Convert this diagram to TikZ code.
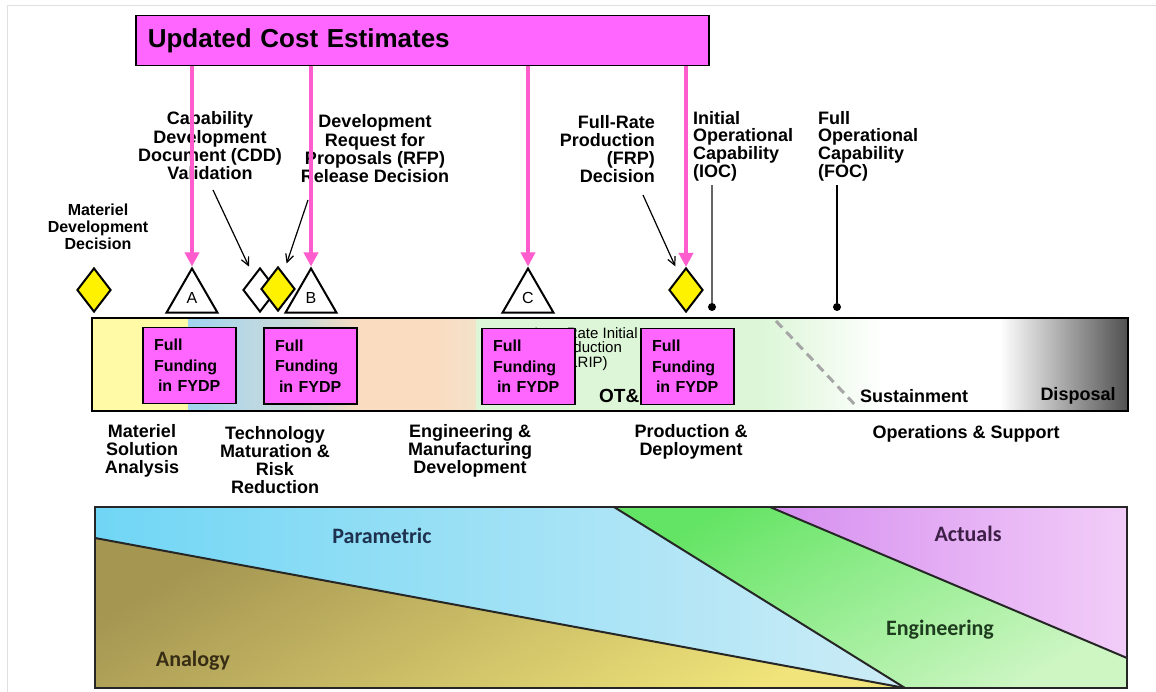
\documentclass[tikz,border=0pt]{standalone}
\usepackage{fontspec}
\setmainfont{Liberation Sans}
\newfontfamily\calfont{Carlito}
\usetikzlibrary{shapes.geometric,arrows.meta,calc}
\definecolor{pinkbox}{RGB}{255,102,255}
\definecolor{pinkarr}{RGB}{255,92,205}
\definecolor{dyel}{RGB}{255,242,0}
\definecolor{bY}{RGB}{255,250,165}
\definecolor{bB1}{RGB}{160,212,240}
\definecolor{bB2}{RGB}{188,216,226}
\definecolor{bG}{RGB}{205,218,215}
\definecolor{bP}{RGB}{250,220,192}
\definecolor{bP2}{RGB}{243,226,202}
\definecolor{bGr}{RGB}{220,246,215}
\definecolor{bD}{RGB}{80,80,80}
\definecolor{anaT}{RGB}{165,150,82}
\definecolor{anaB}{RGB}{240,228,122}
\definecolor{parL}{RGB}{112,214,245}
\definecolor{parR}{RGB}{205,236,246}
\definecolor{engT}{RGB}{100,228,100}
\definecolor{engB}{RGB}{205,246,195}
\definecolor{actL}{RGB}{214,142,240}
\definecolor{actR}{RGB}{242,205,248}
\begin{document}
\begin{tikzpicture}[x=1pt,y=-1pt,
  lbl/.style={inner sep=0pt,font=\fontsize{18}{18}\selectfont\bfseries},
  lblsm/.style={inner sep=0pt,font=\fontsize{16}{17}\selectfont\bfseries},
  tri/.style={regular polygon,regular polygon sides=3,draw,line width=2pt,fill=white,
    minimum size=59pt,inner sep=0pt,font=\fontsize{16}{16}\selectfont},
  dia/.style={diamond,draw,line width=2pt,fill=dyel,minimum width=34pt,minimum height=44pt,inner sep=0pt},
  fund/.style={draw,line width=1.5pt,fill=pinkbox,minimum width=93pt,minimum height=76pt,
    text width=71pt,inner xsep=11pt,inner ysep=0pt,align=left,font=\fontsize{16}{20.5}\selectfont\bfseries},
  ucebox/.style={draw,line width=1.5pt,fill=pinkbox,minimum width=573pt,minimum height=50pt,
    text width=549pt,inner xsep=12pt,align=left,font=\fontsize{26}{26}\selectfont\bfseries},
  parr/.style={pinkarr,line width=4pt,-{Triangle[length=14pt,width=14pt]}},
  barr/.style={black,line width=1.2pt,-{Straight Barb[length=8pt,width=8pt]},shorten >=10pt},
  dotn/.style={circle,fill=black,inner sep=0pt,minimum size=8pt},
  ctext/.style={inner sep=0pt,font=\calfont\fontsize{22}{24}\selectfont\bfseries}
]
\useasboundingbox (0,0) rectangle (1156,692);
\fill[white] (0,0) rectangle (1156,692);
\draw[black!12,line width=1pt] (7,692) -- (7,6) -- (1156,6);

% ---------- timeline bar ----------
\fill[bY] (92,318) rectangle (188,411);
\shade[left color=bB1,right color=bB2] (188,318) rectangle (252,411);
\shade[left color=bB2,right color=bG] (252,318) rectangle (305,411);
\shade[left color=bG,right color=bP] (305,318) rectangle (360,411);
\fill[bP] (360,318) rectangle (435,411);
\shade[left color=bP,right color=bP2] (435,318) rectangle (476,411);
\fill[bGr] (476,318) rectangle (760,411);
\shade[left color=bGr,right color=white] (760,318) rectangle (885,411);
\shade[left color=white,right color=bD] (1000,318) rectangle (1128,411);
\draw[black!35,line width=3pt,dash pattern=on 9pt off 6pt] (776,321) -- (858,408);
\draw[line width=2.5pt] (92,318) rectangle (1128,411);

\node[inner sep=0pt,align=center,font=\fontsize{15}{14.5}\selectfont] (lrip) at (586,349) {Low-Rate Initial\\Production\\(LRIP)};
\node[inner sep=0pt,anchor=west,font=\fontsize{19}{19}\selectfont\bfseries] (ote) at (599,396) {OT\&E};
\node[lbl] (sust) at (914,396) {Sustainment};
\node[lbl] (disp) at (1078,396) {Disposal};

\node[fund] (f1) at (189.5,365.5) {Full\\Funding\\\hspace*{4pt}in FYDP};
\node[fund] (f2) at (310.5,366) {Full\\Funding\\\hspace*{4pt}in FYDP};
\node[fund] (f3) at (528.5,366.5) {Full\\Funding\\\hspace*{4pt}in FYDP};
\node[fund] (f4) at (687.5,366.5) {Full\\Funding\\\hspace*{4pt}in FYDP};

% ---------- phase labels ----------
\node[lbl,align=center] (msa) at (142,451) {Materiel\\Solution\\Analysis};
\node[lbl,align=center] (tmrr) at (275,460) {Technology\\Maturation \&\\Risk\\Reduction};
\node[lbl,align=center] (emd) at (470,451) {Engineering \&\\Manufacturing\\Development};
\node[lbl,align=center] (pd) at (691,442) {Production \&\\Deployment};
\node[lbl,align=center] (os) at (966,434) {Operations \& Support};

% ---------- milestones ----------
\node[dia] (mdd) at (94,290) {};
\node[tri] (A) at (192,298) {A};
\node[tri] (B) at (311,298) {B};
\node[dia,fill=white] (cdd) at (260,290) {};
\node[dia] (rfp) at (278,289) {};
\node[tri] (C) at (528,298) {C};
\node[dia] (frp) at (686,290) {};

% ---------- milestone labels ----------
\node[lblsm,align=center] (mddL) at (98,227) {Materiel\\Development\\Decision};
\node[lbl,align=center,font=\fontsize{18}{18.3}\selectfont\bfseries] (cddL) at (210,146) {Capability\\Development\\Document (CDD)\\Validation};
\node[lbl,align=center,font=\fontsize{18}{18.3}\selectfont\bfseries] (rfpL) at (375,149) {Development\\Request for\\Proposals (RFP)\\Release Decision};
\node[lbl,align=right,anchor=east,font=\fontsize{18}{18}\selectfont\bfseries] (frpL) at (655,149) {Full-Rate\\Production\\(FRP)\\Decision};
\node[lbl,align=left,anchor=west,font=\fontsize{18}{17.7}\selectfont\bfseries] (iocL) at (693,146) {Initial\\Operational\\Capability\\(IOC)};
\node[lbl,align=left,anchor=west,font=\fontsize{18}{17.7}\selectfont\bfseries] (focL) at (818,146) {Full\\Operational\\Capability\\(FOC)};

\coordinate (cddT) at (213,190);
\coordinate (rfpT) at (308,200);
\coordinate (frpT) at (643,195);
\draw[barr] (cddT) -- (cdd);
\draw[barr] (rfpT) -- (rfp);
\draw[barr] (frpT) -- (frp);

\coordinate (iocT) at (712,185);
\coordinate (focT) at (837,185);
\node[dotn] (iocD) at (712,307) {};
\node[dotn] (focD) at (837,307) {};
\draw[black!60,line width=1.5pt] (iocT) -- (iocD);
\draw[black,line width=1.5pt] (focT) -- (focD);

% ---------- updated cost estimates ----------
\node[ucebox,anchor=north west] (uce) at (135,15) {Updated Cost Estimates};
\draw[parr] (uce.south -| A.north) -- (A.north);
\draw[parr] (uce.south -| B.north) -- (B.north);
\draw[parr] (uce.south -| C.north) -- (C.north);
\draw[parr] (uce.south -| frp.north) -- (frp.north);

% ---------- estimating methods chart ----------
\shade[top color=anaT,bottom color=anaB,shading angle=30] (95,538) -- (905,688) -- (95,688) -- cycle;
\shade[left color=parL,right color=parR] (95,507) -- (614,507) -- (905,688) -- (95,538) -- cycle;
\shade[top color=engT,bottom color=engB,shading angle=30] (614,507) -- (770,507) -- (1127,658) -- (1127,688) -- (905,688) -- cycle;
\shade[left color=actL,right color=actR] (770,507) -- (1127,507) -- (1127,658) -- cycle;
\draw[black!85,line width=2pt] (95,538) -- (905,688);
\draw[black!85,line width=2pt] (614,507) -- (905,688);
\draw[black!85,line width=2pt] (770,507) -- (1127,658);
\draw[black!85,line width=2pt] (95,507) rectangle (1127,688);
\node[ctext,text={rgb,255:red,30;green,50;blue,80}] (par) at (382,536) {Parametric};
\node[ctext,text={rgb,255:red,55;green,45;blue,20}] (ana) at (193,661) {Analogy};
\node[ctext,text={rgb,255:red,60;green,30;blue,70}] (act) at (968,534) {Actuals};
\node[ctext,text={rgb,255:red,30;green,60;blue,30}] (eng) at (940,630) {Engineering};
\end{tikzpicture}
\end{document}
